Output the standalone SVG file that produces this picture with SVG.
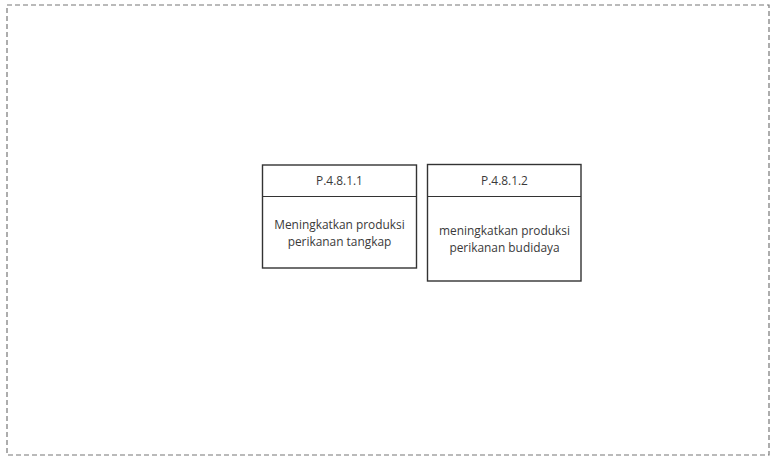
<svg xmlns="http://www.w3.org/2000/svg" width="771" height="459" viewBox="0 0 771 459">
  <style>
    .frame { fill: none; stroke: #777777; stroke-width: 1.2; stroke-dasharray: 5 3; }
    .box { fill: #ffffff; stroke: #333333; stroke-width: 1.4; }
    .div { stroke: #333333; stroke-width: 1.2; }
    .t { font-family: "Open Sans", "Liberation Sans", sans-serif; font-size: 11.9px; fill: #3a3a3a; text-anchor: middle; }
  </style>
  <rect x="0" y="0" width="771" height="459" fill="#ffffff"/>
  <rect class="frame" x="7" y="5" width="762" height="450"/>
  <g id="node-p48111">
    <rect class="box" x="262.5" y="165" width="154" height="103"/>
    <line class="div" x1="262.5" y1="196.5" x2="416.5" y2="196.5"/>
    <text class="t" x="339.5" y="185">P.4.8.1.1</text>
    <text class="t" x="339.5" y="229">Meningkatkan produksi</text>
    <text class="t" x="339.5" y="246">perikanan tangkap</text>
  </g>
  <g id="node-p48112">
    <rect class="box" x="427.5" y="164.5" width="153.5" height="116.5"/>
    <line class="div" x1="427.5" y1="196.5" x2="581" y2="196.5"/>
    <text class="t" x="504.5" y="185">P.4.8.1.2</text>
    <text class="t" x="504.5" y="235">meningkatkan produksi</text>
    <text class="t" x="504.5" y="252">perikanan budidaya</text>
  </g>
  <g id="connectors"/>
</svg>
